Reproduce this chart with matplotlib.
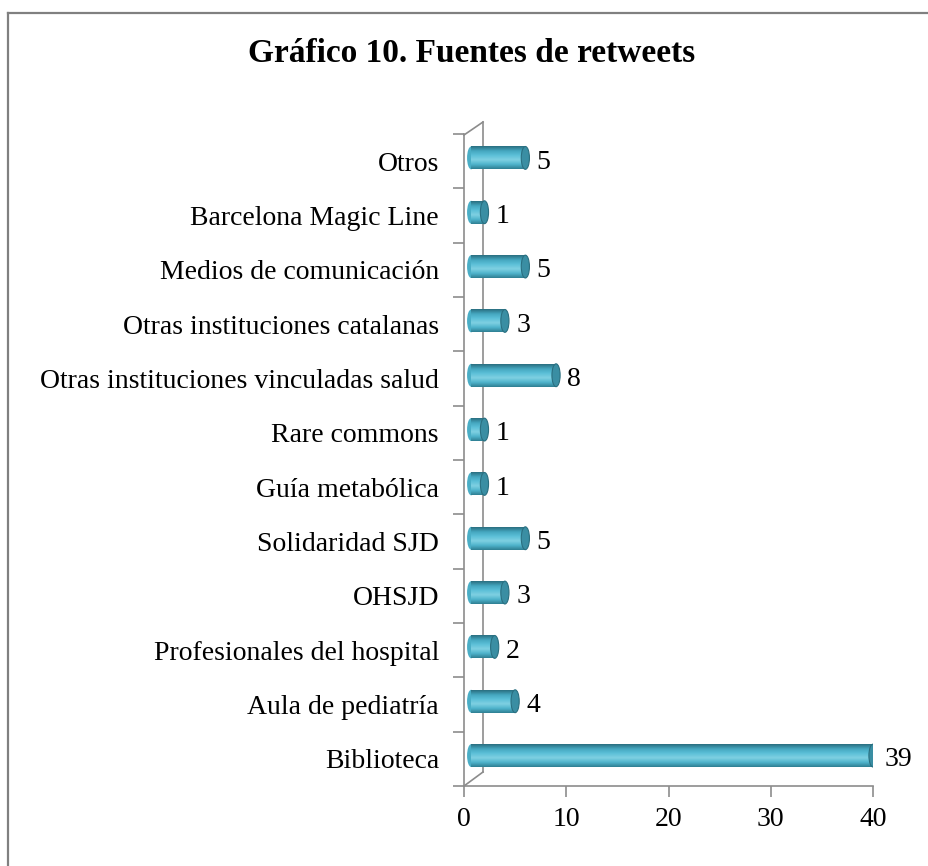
import numpy as np
import matplotlib
matplotlib.use("Agg")
import matplotlib.pyplot as plt
from matplotlib.patches import Rectangle, Ellipse
from matplotlib.colors import LinearSegmentedColormap
from matplotlib.lines import Line2D

categories = ["Biblioteca", "Aula de pediatría", "Profesionales del hospital", "OHSJD",
              "Solidaridad SJD", "Guía metabólica", "Rare commons",
              "Otras instituciones vinculadas salud", "Otras instituciones catalanas",
              "Medios de comunicación", "Barcelona Magic Line", "Otros"]
values = [39, 4, 2, 3, 5, 1, 1, 8, 3, 5, 1, 5]
xticks = [0, 10, 20, 30, 40]
title = "Gráfico 10. Fuentes de retweets"

W, H = 929, 866
fig = plt.figure(figsize=(W / 100, H / 100), dpi=100)
serif = ["Liberation Serif", "DejaVu Serif"]
FS = 20

# outer frame (left and top visible)
fig.add_artist(Line2D([8 / W, 8 / W], [0, 1 - 12.5 / H], color="#808080", lw=1.6))
fig.add_artist(Line2D([8 / W, 1.0], [1 - 12.5 / H, 1 - 12.5 / H], color="#808080", lw=1.6))

ax = fig.add_axes([464 / W, 1 - 786 / H, 409 / W, 652 / H])
n = len(categories)
gray = "#8c8c8c"

cmap = LinearSegmentedColormap.from_list("cyl", ["#2f7f93", "#4fb4cc", "#7fd0e2", "#5cc0d8", "#44a6bf", "#2a6f80"])
grad = np.linspace(0, 1, 64).reshape(-1, 1)

h = 0.42
dy = 0.06
for i, v in enumerate(values):
    y = i + dy
    x0, x1 = 0.7, v + 1.0
    rect = Rectangle((x0, y - h / 2), x1 - x0, h, transform=ax.transData)
    im = ax.imshow(grad, extent=[x0, x1, y + h / 2, y - h / 2], aspect="auto", cmap=cmap,
                   interpolation="bilinear", zorder=2)
    im.set_clip_path(rect)
    ax.add_patch(Ellipse((x0, y), 0.8, h, facecolor="#4aaec6", edgecolor="none", zorder=1.9))
    ax.add_patch(Ellipse((x1, y), 0.8, h, facecolor="#3a8ea3", edgecolor="#2a6f80", lw=0.8, zorder=3))
    ax.text(x1 + 1.1, i - 0.02, str(v), va="center", ha="left", fontsize=FS, family=serif)

ax.set_xlim(0, 40)
ax.set_ylim(-0.5, n - 0.5)
ax.set_xticks(xticks)
ax.set_xticklabels([str(t) for t in xticks], fontsize=FS, family=serif)
ax.set_yticks(np.arange(-0.5, n, 1.0))
ax.set_yticklabels([])
ax.set_yticks(np.arange(n), minor=True)
ax.set_yticklabels(categories, minor=True, fontsize=FS, family=serif)
ax.tick_params(axis="y", which="minor", length=0, pad=18)
ax.tick_params(axis="y", which="major", length=8, color=gray, width=1.2)
ax.tick_params(axis="x", length=8, color=gray, width=1.2, pad=7)
for s in ["top", "right"]:
    ax.spines[s].set_visible(False)
for s in ["left", "bottom"]:
    ax.spines[s].set_color(gray)
    ax.spines[s].set_linewidth(1.2)

# back wall lines (3D effect)
def px(x, y):
    return ((x - 464) / 409 * 40, (786 - y) / 652 * n - 0.5)

for (a, b) in [((464, 786), (483, 772)), ((483, 772), (483, 122)), ((464, 135), (483, 122))]:
    p, q = px(*a), px(*b)
    ax.add_line(Line2D([p[0], q[0]], [p[1], q[1]], color=gray, lw=1.2, clip_on=False, zorder=1))

fig.text(472 / W, 1 - 54 / H, title, ha="center", va="center", fontsize=24, fontweight="bold", family=serif)

fig.savefig("out.png", dpi=100)
